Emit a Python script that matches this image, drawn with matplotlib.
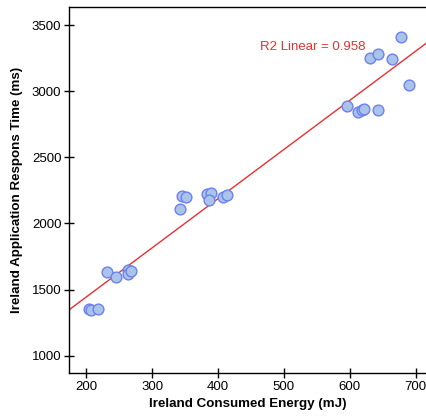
import numpy as np
import matplotlib
matplotlib.use('Agg')
import matplotlib.pyplot as plt

energy = [205, 207, 218, 231, 245, 264, 264, 268,
          343, 346, 351, 384, 389, 387, 408, 413,
          596, 612, 618, 621, 643, 689, 630, 643, 664, 678]
resp_time = [1353, 1345, 1353, 1630, 1597, 1648, 1617, 1638,
             2109, 2210, 2200, 2220, 2232, 2177, 2202, 2212,
             2887, 2842, 2857, 2865, 2855, 3046, 3250, 3280, 3243, 3409]

x_ticks = [200, 300, 400, 500, 600, 700]
y_ticks = [1000, 1500, 2000, 2500, 3000, 3500]

plt.rcParams['font.family'] = ['Liberation Sans', 'DejaVu Sans']

fig = plt.figure(figsize=(4.27, 4.16), dpi=100)
ax = fig.add_axes([0.1616, 0.1034, 0.8384, 0.8796])

ax.scatter(energy, resp_time, s=60, facecolor='#aac4e8', edgecolor='#6d80f2',
           linewidth=1.0, zorder=3)

# linear fit
slope, icpt = np.polyfit(energy, resp_time, 1)
xl = np.array([174, 717])
ax.plot(xl, slope * xl + icpt, color='#e83030', linewidth=1.0, zorder=2)

ax.text(544, 3336, 'R2 Linear = 0.958', color='#e83030', fontsize=9.5,
        ha='center', va='center')

ax.set_xlim(174, 717)
ax.set_ylim(869, 3636)
ax.set_xticks(x_ticks)
ax.set_yticks(y_ticks)
ax.tick_params(direction='inout', length=7, width=1, labelsize=9.5, pad=2)
ax.spines['right'].set_visible(False)
for s in ['left', 'bottom', 'top']:
    ax.spines[s].set_linewidth(1.0)

ax.set_xlabel('Ireland Consumed Energy (mJ)', fontsize=9.6, fontweight='bold', labelpad=4)
ax.set_ylabel('Ireland Application Respons Time (ms)', fontsize=9.6, fontweight='bold', labelpad=6)

fig.savefig('out.png', dpi=100)
